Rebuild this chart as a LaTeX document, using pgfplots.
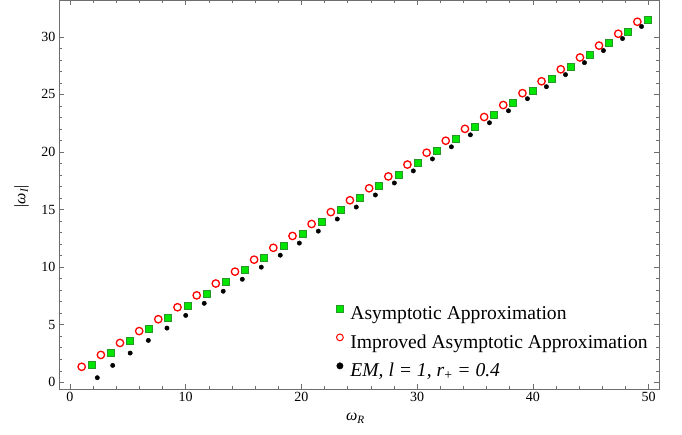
\documentclass[border=0pt]{standalone}
\usepackage{fontspec}
\setmainfont{Liberation Serif}
\usepackage{pgfplots}
\pgfplotsset{compat=1.18}
\definecolor{mgreen}{RGB}{0,230,0}
\definecolor{mgreenedge}{RGB}{40,150,40}
\definecolor{framegray}{RGB}{110,110,110}
\begin{document}
\begin{tikzpicture}
\useasboundingbox (-59pt,-45pt) rectangle (623pt,389pt);
\begin{axis}[
  at={(0pt,0pt)}, anchor=south west,
  scale only axis, width=600pt, height=389pt,
  xmin=-0.95, xmax=50.9, ymin=-0.58, ymax=33.2,
  xtick={0,10,...,50}, ytick={0,5,...,30},
  minor x tick num=4, minor y tick num=4,
  tick align=inside, major tick length=5pt, minor tick length=3pt,
  axis line style={framegray, line width=0.8pt},
  every tick/.style={framegray, line width=0.6pt},
  ticklabel style={font=\fontsize{14}{16}\selectfont},
  /pgf/number format/assume math mode=true,
  xlabel={\textit{ω}\textsubscript{\textit{R}}},
  ylabel={|\textit{ω}\textsubscript{\textit{I}}|},
  label style={font=\fontsize{16}{18}\selectfont},
  xlabel style={at={(axis description cs:0.494,-0.075)}, anchor=center},
  ylabel style={at={(axis description cs:-0.0625,0.496)}, anchor=center},
  legend style={at={(axis description cs:0.462,0.216)}, anchor=north west,
    draw=none, fill=none, inner sep=0pt, row sep=10.3pt, column sep=7pt,
    font=\fontsize{19.6}{22}\selectfont,
    nodes={inner sep=0pt, text height=14pt, text depth=4pt}},
  legend cell align=left,
  legend image code/.code={\draw[#1] plot coordinates {(0pt,6pt)};},
]
\addplot[only marks, mark=square*, mark size=3.5pt, mark options={fill=mgreen, draw=mgreenedge, line width=0.5pt}] coordinates {
(1.87,1.50) (3.53,2.54) (5.18,3.57) (6.84,4.61) (8.49,5.64) (10.15,6.68)
(11.81,7.71) (13.46,8.75) (15.12,9.78) (16.77,10.82) (18.43,11.85) (20.09,12.89)
(21.74,13.92) (23.40,14.96) (25.05,15.99) (26.71,17.03) (28.37,18.06) (30.02,19.10)
(31.68,20.13) (33.33,21.17) (34.99,22.20) (36.65,23.24) (38.30,24.27) (39.96,25.31)
(41.61,26.34) (43.27,27.38) (44.93,28.41) (46.58,29.45) (48.24,30.48) (49.89,31.52)
};
\addlegendentry{Asymptotic Approximation}
\addplot[only marks, mark=o, mark size=3.7pt, mark options={draw=red, fill=white, line width=1.3pt},
  legend image post style={mark size=3.4pt, mark options={draw=red, fill=white, line width=1pt}}] coordinates {
(1.01,1.35) (2.67,2.38) (4.32,3.42) (5.98,4.45) (7.63,5.48) (9.29,6.52)
(10.95,7.55) (12.60,8.58) (14.26,9.61) (15.91,10.65) (17.57,11.68) (19.23,12.71)
(20.88,13.75) (22.54,14.78) (24.19,15.81) (25.85,16.85) (27.51,17.88) (29.16,18.91)
(30.82,19.94) (32.47,20.98) (34.13,22.01) (35.79,23.04) (37.44,24.08) (39.10,25.11)
(40.75,26.14) (42.41,27.18) (44.07,28.21) (45.72,29.24) (47.38,30.27) (49.03,31.31)
};
\addlegendentry{Improved Asymptotic Approximation}
\addplot[only marks, mark=*, mark size=2.2pt, mark options={fill=black, draw=black},
  legend image post style={mark size=3.2pt}] coordinates {
(2.36,0.40) (3.69,1.47) (5.20,2.54) (6.77,3.64) (8.38,4.71) (10.00,5.81)
(11.60,6.86) (13.24,7.91) (14.89,8.95) (16.53,10.00) (18.17,11.04) (19.82,12.09)
(21.46,13.13) (23.10,14.18) (24.74,15.22) (26.39,16.27) (28.03,17.31) (29.67,18.36)
(31.32,19.40) (32.96,20.45) (34.60,21.49) (36.25,22.54) (37.89,23.58) (39.53,24.63)
(41.17,25.67) (42.82,26.72) (44.46,27.76) (46.10,28.81) (47.75,29.85) (49.39,30.90)
};
\addlegendentry{\textit{EM, l = 1, r}\textsubscript{+}\textit{ = 0.4}}
\end{axis}
\end{tikzpicture}
\end{document}
